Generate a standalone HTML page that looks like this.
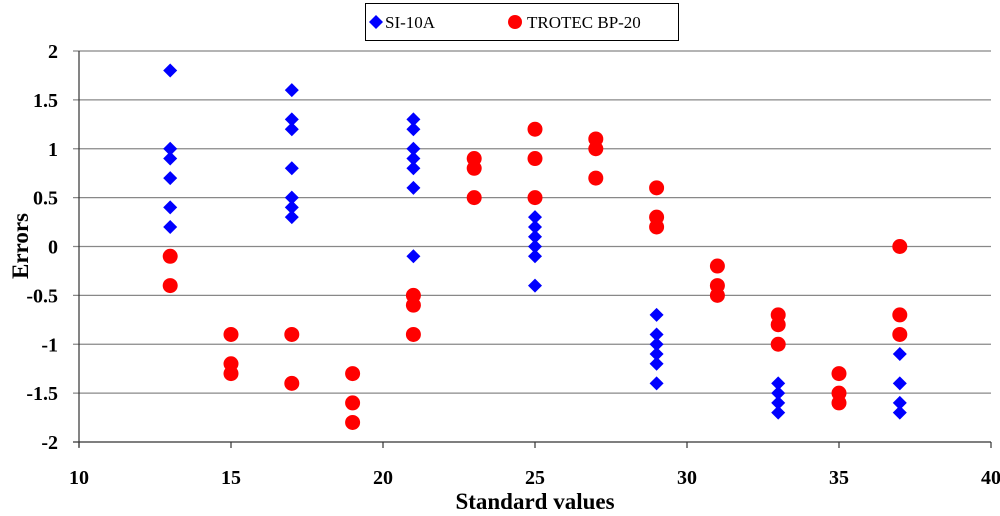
<!DOCTYPE html>
<html><head><meta charset="utf-8"><style>
html,body{margin:0;padding:0;background:#fff;}
svg{display:block;font-family:"Liberation Serif",serif;}
</style></head><body>
<svg id="chart" width="1000" height="516">
<g id="grid"></g>
<g id="axes"></g>
<g id="marks"></g>
<text x="28" y="246" transform="rotate(-90 28 246)" text-anchor="middle" font-size="23" font-weight="bold">Errors</text>
<text x="535" y="509" text-anchor="middle" font-size="23" font-weight="bold">Standard values</text>
<g>
<rect x="365.5" y="3.5" width="313" height="37" fill="#fff" stroke="#000"/>
<g>
<polygon points="376,15 383,22 376,29 369,22" fill="#0000ff"/>
<text x="385" y="28" font-size="17">SI-10A</text></g>
<g>
<circle cx="515" cy="22" r="7" fill="#ff0000"/>
<text x="527" y="28" font-size="17">TROTEC BP-20</text></g>
</g>
</svg>
<script>
const siX=[13,13,13,13,13,13,17,17,17,17,17,17,17,21,21,21,21,21,21,21,25,25,25,25,25,25,29,29,29,29,29,29,33,33,33,33,37,37,37,37];
const siY=[1.8,1.0,0.9,0.7,0.4,0.2,1.6,1.3,1.2,0.8,0.5,0.4,0.3,1.3,1.2,1.0,0.9,0.8,0.6,-0.1,0.3,0.2,0.1,0,-0.1,-0.4,-0.7,-0.9,-1.0,-1.1,-1.2,-1.4,-1.4,-1.5,-1.6,-1.7,-1.1,-1.4,-1.6,-1.7];
const trX=[13,13,15,15,15,17,17,19,19,19,21,21,21,23,23,23,25,25,25,27,27,27,29,29,29,31,31,31,33,33,33,35,35,35,37,37,37];
const trY=[-0.1,-0.4,-0.9,-1.2,-1.3,-0.9,-1.4,-1.3,-1.6,-1.8,-0.5,-0.6,-0.9,0.9,0.8,0.5,1.2,0.9,0.5,1.1,1.0,0.7,0.6,0.3,0.2,-0.2,-0.4,-0.5,-0.7,-0.8,-1.0,-1.3,-1.5,-1.6,0,-0.7,-0.9];
const xTicks=[10,15,20,25,30,35,40];
const yTicks=[2,1.5,1,0.5,0,-0.5,-1,-1.5,-2];
const NS="http://www.w3.org/2000/svg";
const X=v=>79+(v-10)*(991-79)/30;
const Y=v=>246.5-v*97.75;
function mk(tag,attrs,parent){const e=document.createElementNS(NS,tag);for(const k in attrs)e.setAttribute(k,attrs[k]);parent.appendChild(e);return e;}
const grid=document.getElementById('grid'),axes=document.getElementById('axes'),marks=document.getElementById('marks');
yTicks.forEach(t=>{
  const l=mk('line',{x1:73,x2:991,y1:Y(t),y2:Y(t),stroke:t===-2?'#333':'#888','stroke-width':1.2},grid);
  
  
  const tx=mk('text',{x:58,y:Y(t)+7,'text-anchor':'end','font-size':20,'font-weight':'bold'},axes);
  tx.textContent=t;
  
  
});
const ya=mk('line',{x1:79,x2:79,y1:Y(2),y2:Y(-2)+5,stroke:'#333','stroke-width':1.2},axes);


xTicks.forEach(t=>{
  const l=mk('line',{x1:X(t),x2:X(t),y1:Y(-2),y2:Y(-2)+6,stroke:'#333','stroke-width':1.2},axes);
  
  
  const tx=mk('text',{x:X(t),y:484,'text-anchor':'middle','font-size':20,'font-weight':'bold'},axes);
  tx.textContent=t;
  
  
});
siX.forEach((x,i)=>{
  const cx=X(x),cy=Y(siY[i]);
  const p=mk('polygon',{points:`${cx},${cy-7} ${cx+7},${cy} ${cx},${cy+7} ${cx-7},${cy}`,fill:'#0000ff'},marks);
  
  
});
trX.forEach((x,i)=>{
  const c=mk('circle',{cx:X(x),cy:Y(trY[i]),r:7.5,fill:'#ff0000'},marks);
  
  
});
</script>
</body></html>
